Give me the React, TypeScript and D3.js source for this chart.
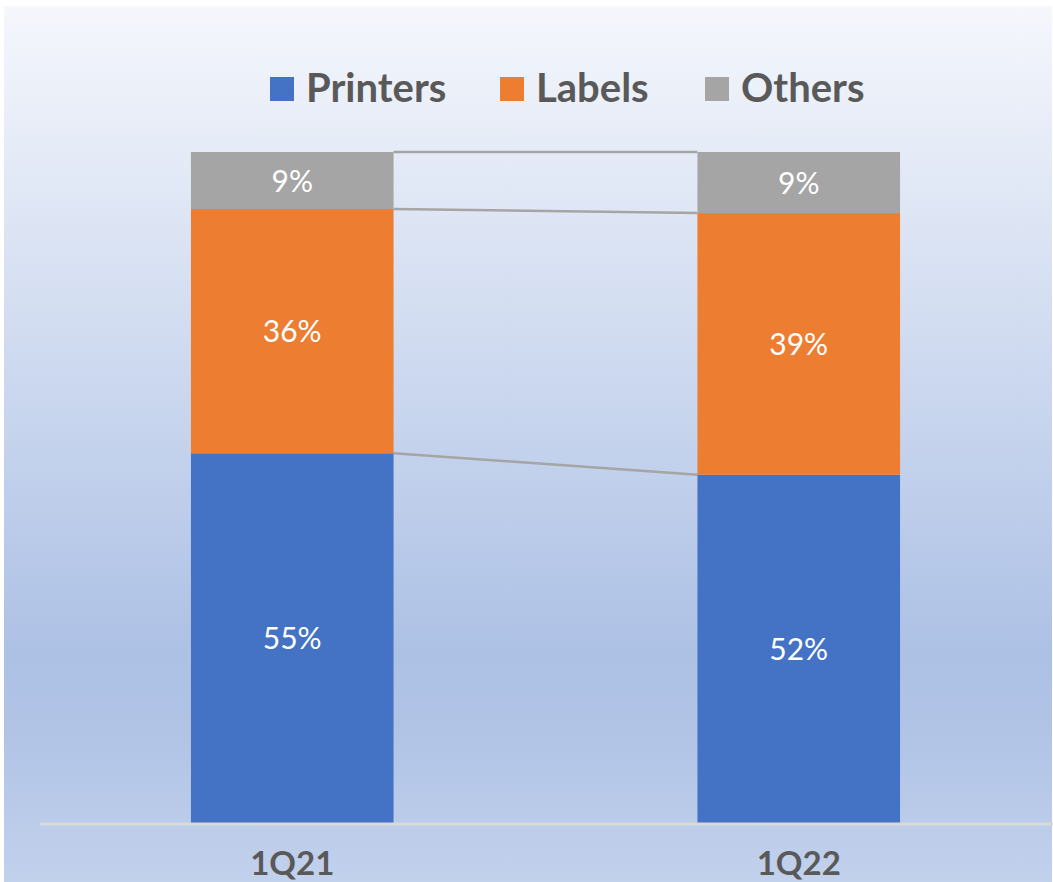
import React from "react";
import * as d3 from "d3";

const categories = ["1Q21", "1Q22"];
const seriesNames = ["Printers", "Labels", "Others"];
const printers = [55.1, 51.9];
const labels = [36.4, 39.0];
const others = [8.5, 9.1];
const seriesColors = ["#4472c4", "#ed7d31", "#a5a5a5"];

const W = 1053;
const H = 882;

export default function App() {
  const rows = categories.map((c, i) => ({
    cat: c,
    Printers: printers[i],
    Labels: labels[i],
    Others: others[i],
  }));
  const stack = d3.stack<any>().keys(seriesNames)(rows);

  const x = d3
    .scaleBand<string>()
    .domain(categories)
    .range([39, 1052])
    .paddingInner(0.6)
    .paddingOuter(0.3);
  const y = d3.scaleLinear().domain([0, 100]).range([823, 152]);
  const bw = x.bandwidth();

  const legendX = [270, 500, 705];
  const font = "Lato, 'Open Sans', sans-serif";

  const boundaries: { y0: number; y1: number }[] = [];
  stack.forEach((s) => {
    boundaries.push({ y0: y(s[0][1]), y1: y(s[1][1]) });
  });

  return (
    <svg
      width={W}
      height={H}
      style={{ position: "absolute", left: 0, top: 0 }}
    >
      <defs>
        <linearGradient id="bg" x1="0" y1="0" x2="0" y2="1">
          <stop offset="0" stopColor="#f5f7fc" />
          <stop offset="0.74" stopColor="#adc1e5" />
          <stop offset="0.83" stopColor="#b1c4e6" />
          <stop offset="1" stopColor="#c2d1ec" />
        </linearGradient>
      </defs>
      <rect x={0} y={0} width={W} height={H} fill="#ffffff" />
      <rect x={4} y={6} width={W - 5} height={H - 6} fill="url(#bg)" />

      {seriesNames.map((n, i) => (
        <g key={n}>
          <rect x={legendX[i]} y={77} width={24} height={24} fill={seriesColors[i]} />
          <text
            x={legendX[i] + 36}
            y={102}
            fontFamily={font}
            fontWeight={700}
            fontSize={40}
            fill="#595959"
          >
            {n}
          </text>
        </g>
      ))}

      {boundaries.map((b, i) => (
        <line
          key={i}
          x1={(x(categories[0]) as number) + bw}
          x2={x(categories[1]) as number}
          y1={b.y0}
          y2={b.y1}
          stroke="#a5a5a5"
          strokeWidth={2.5}
        />
      ))}

      {stack.map((s, si) =>
        s.map((d, ci) => (
          <g key={si + "-" + ci}>
            <rect
              x={x(categories[ci]) as number}
              y={y(d[1])}
              width={bw}
              height={y(d[0]) - y(d[1])}
              fill={seriesColors[si]}
            />
            <text
              x={(x(categories[ci]) as number) + bw / 2}
              y={(y(d[0]) + y(d[1])) / 2 + 11}
              textAnchor="middle"
              fontFamily={font}
              fontSize={30}
              fill="#ffffff"
            >
              {`${Math.round(d[1] - d[0])}%`}
            </text>
          </g>
        ))
      )}

      <line x1={40} x2={1053} y1={824} y2={824} stroke="#d9d9d9" strokeWidth={3} />
      {categories.map((c) => (
        <text
          key={c}
          x={(x(c) as number) + bw / 2}
          y={875}
          textAnchor="middle"
          fontFamily={font}
          fontWeight={700}
          fontSize={33}
          fill="#595959"
        >
          {c}
        </text>
      ))}
    </svg>
  );
}
